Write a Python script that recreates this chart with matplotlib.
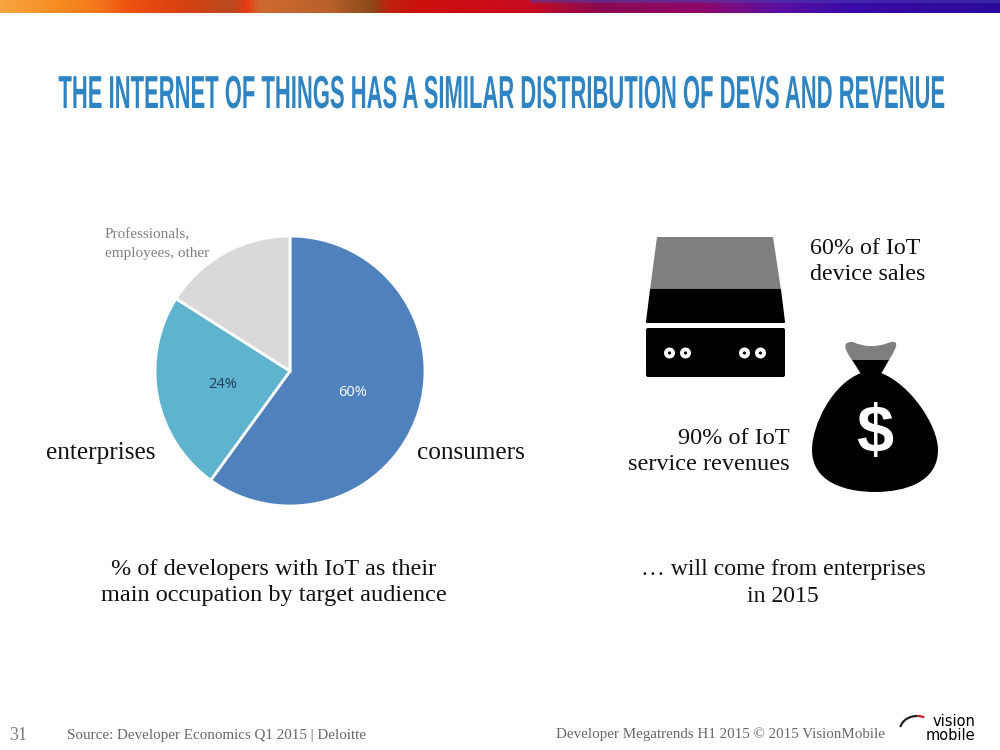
import matplotlib
matplotlib.use('Agg')
import matplotlib.pyplot as plt
import numpy as np
from matplotlib.colors import LinearSegmentedColormap
from matplotlib.patches import Polygon, FancyBboxPatch, Circle, PathPatch, Arc, Rectangle
from matplotlib.path import Path
from matplotlib.patheffects import AbstractPathEffect
from matplotlib.transforms import Affine2D

title = 'THE INTERNET OF THINGS HAS A SIMILAR DISTRIBUTION OF DEVS AND REVENUE'
shares = [60, 24, 16]
share_colors = ['#4f81bd', '#5eb3cf', '#d9d9d9']
share_labels = ['60%', '24%', '']
bar_stops = [0, .06, .09, .13, .18, .23, .245, .26, .33, .37, .39, .42, .53, .60, .70, .78, .85, 1]
bar_colors = ['#f8a540', '#f68a20', '#f57a1c', '#ee5010', '#d8400f', '#b84a20', '#e83a10', '#cf6a30',
              '#b8602a', '#8a4a1a', '#c02010', '#cc100c', '#c80a20', '#8a0a50', '#90086a', '#5a10a0',
              '#3a0aa8', '#2a0a9a']

SERIF = 'Liberation Serif'
INK = '#111111'


class Stretch(AbstractPathEffect):
    # makes the glyphs taller above the baseline, there is no condensed font for the title
    def __init__(self, factor, y0):
        super().__init__()
        self.factor = factor
        self.y0 = y0

    def draw_path(self, renderer, gc, tpath, affine, rgbFace=None):
        tall = Affine2D().translate(0, -self.y0).scale(1, self.factor).translate(0, self.y0)
        renderer.draw_path(gc, tpath, affine + tall, rgbFace)


def Y(py):  # picture rows run downwards
    return 750 - py


fig = plt.figure(figsize=(10, 7.5), dpi=100)
ax = fig.add_axes([0, 0, 1, 1])

# top bar
cmap = LinearSegmentedColormap.from_list('bar', list(zip(bar_stops, bar_colors)))
ax.imshow(np.linspace(0, 1, 800).reshape(1, -1), cmap=cmap, aspect='auto', extent=[0, 1000, Y(13), Y(0)])
ax.add_patch(Rectangle((530, Y(3)), 470, 3, color='#4a40b0', alpha=0.5, lw=0))

ax.text(502, Y(108), title, ha='center', va='baseline', fontsize=15.85, color='#2e83c2',
        family='Liberation Sans', weight='bold', path_effects=[Stretch(2.1, Y(108))])

# pie
wedges, _ = ax.pie(shares, colors=share_colors, startangle=90, counterclock=False,
                   center=(290, Y(371)), radius=135, frame=True,
                   wedgeprops=dict(edgecolor='white', linewidth=2))
ax.text(353, Y(393), share_labels[0], ha='center', va='center', fontsize=10.5, color='white', family='Open Sans')
ax.text(223, Y(384), share_labels[1], ha='center', va='center', fontsize=10.5, color='#1f3d55', family='Open Sans')

ax.text(105, Y(235), 'Professionals,', ha='left', va='center', fontsize=11, color='#808080', family=SERIF)
ax.text(105, Y(253), 'employees, other', ha='left', va='center', fontsize=11, color='#808080', family=SERIF)
ax.text(46, Y(453), 'enterprises', ha='left', va='center', fontsize=18.2, color=INK, family=SERIF)
ax.text(417, Y(453), 'consumers', ha='left', va='center', fontsize=18.2, color=INK, family=SERIF)
ax.text(274, Y(570), '% of developers with IoT as their', ha='center', va='center', fontsize=17.5, color=INK, family=SERIF)
ax.text(274, Y(596), 'main occupation by target audience', ha='center', va='center', fontsize=17.5, color=INK, family=SERIF)

# drive icon
ax.add_patch(Polygon([(657, Y(237)), (773, Y(237)), (781, Y(290)), (650, Y(290))], color='#7f7f7f', lw=0))
ax.add_patch(Polygon([(651, Y(290)), (780, Y(290)), (784, Y(322)), (647, Y(322))], facecolor='black',
                     edgecolor='black', lw=1.5, joinstyle='round'))
ax.add_patch(FancyBboxPatch((648, Y(375)), 135, 45, boxstyle='round,pad=2', color='black', lw=0))
for dx in [669.5, 685.5, 744.5, 760.5]:
    ax.add_patch(Circle((dx, Y(353)), 5.5, color='white', lw=0))
    ax.add_patch(Circle((dx, Y(353)), 1.6, color='black', lw=0))

# money bag icon
neck_codes = [Path.MOVETO, Path.CURVE3, Path.CURVE3, Path.CURVE3, Path.CURVE3, Path.CURVE3, Path.CURVE3,
              Path.CLOSEPOLY]
neck = [(852, 360), (838, 341), (853, 342), (870, 350), (888, 343), (904, 337), (889, 360), (852, 360)]
ax.add_patch(PathPatch(Path([(x, Y(y)) for x, y in neck], neck_codes), color='#7f7f7f', lw=0))
ax.add_patch(Polygon([(852, Y(360)), (889, Y(360)), (881, Y(374)), (861, Y(374))], color='black', lw=0))
bag_codes = [Path.MOVETO] + [Path.CURVE4] * 12 + [Path.CLOSEPOLY]
bag = [(861, 373), (832, 384), (812, 425), (812, 450), (812, 482), (845, 492), (875, 492),
       (905, 492), (938, 482), (938, 450), (938, 425), (910, 384), (881, 373), (861, 373)]
ax.add_patch(PathPatch(Path([(x, Y(y)) for x, y in bag], bag_codes), color='black', lw=0))
ax.text(875, Y(435), '$', ha='center', va='center', fontsize=48, color='white', family='Liberation Sans', weight='bold')

ax.text(810, Y(248), '60% of IoT', ha='left', va='center', fontsize=17.3, color=INK, family=SERIF)
ax.text(810, Y(274), 'device sales', ha='left', va='center', fontsize=17.3, color=INK, family=SERIF)
ax.text(790, Y(438), '90% of IoT', ha='right', va='center', fontsize=17.5, color=INK, family=SERIF)
ax.text(790, Y(464), 'service revenues', ha='right', va='center', fontsize=17.5, color=INK, family=SERIF)
ax.text(783, Y(569), '… will come from enterprises', ha='center', va='center', fontsize=17.1, color=INK, family=SERIF)
ax.text(783, Y(597), 'in 2015', ha='center', va='center', fontsize=17.1, color=INK, family=SERIF)

# footer
ax.text(9, Y(735), '31', ha='left', va='center', fontsize=13, color='#808080', family=SERIF)
ax.text(67, Y(735), 'Source: Developer Economics Q1 2015 | Deloitte', ha='left', va='center', fontsize=10.8, color='#666666', family=SERIF)
ax.text(885, Y(734), 'Developer Megatrends H1 2015 © 2015 VisionMobile', ha='right', va='center', fontsize=10.8, color='#666666', family=SERIF)

# logo
ax.text(975, Y(722), 'vision', ha='right', va='center', fontsize=10.5, color='black', family='DejaVu Sans')
ax.text(975, Y(736), 'mobile', ha='right', va='center', fontsize=10.5, color='black', family='DejaVu Sans')
ax.add_patch(Arc((917, Y(730)), 34, 28, theta1=90, theta2=170, color='#222222', lw=1.6))
ax.add_patch(Arc((917, Y(730)), 34, 28, theta1=60, theta2=90, color='#c8202a', lw=1.6))

ax.set_xlim(0, 1000)
ax.set_ylim(0, 750)
ax.set_aspect('auto')
ax.axis('off')
fig.savefig('out.png', dpi=100)
